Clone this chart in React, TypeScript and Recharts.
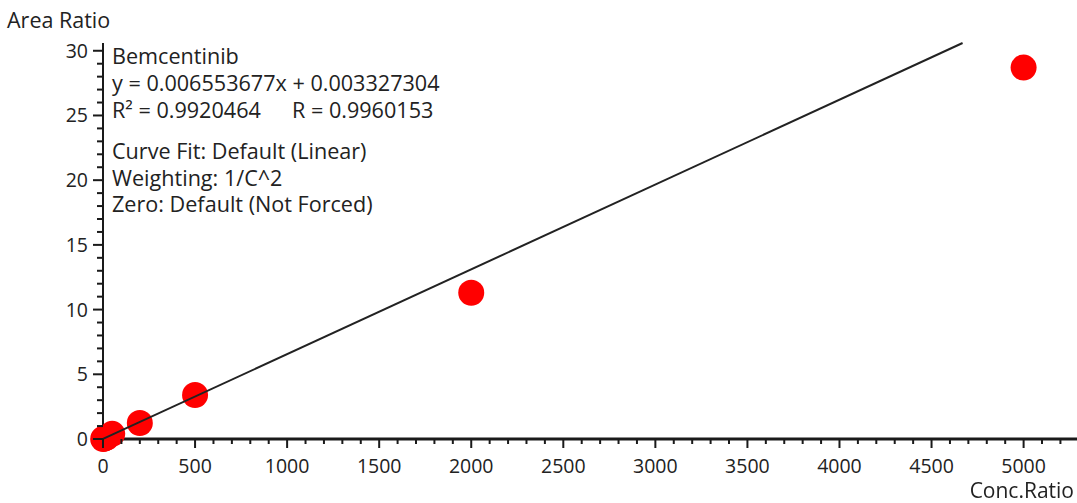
import { ScatterChart, Scatter, XAxis, YAxis } from "recharts";

// calibration standards
const concRatio = [1, 5, 10, 20, 50, 200, 500, 2000, 5000];
const areaRatio = [0.0, 0.03, 0.06, 0.12, 0.4, 1.24, 3.4, 11.3, 28.7];

// fit reported by the software
const fitSlope = 0.006553677;
const fitIntercept = 0.003327304;

const xMax = 5290;
const yMax = 30.6;
const xTicks = Array.from({ length: 53 }, (_, i) => i * 100);
const yTicks = Array.from({ length: 31 }, (_, i) => i);

const points = concRatio.map((x, i) => ({ x, y: areaRatio[i] }));
const fitLine = [
  { x: 0, y: fitIntercept },
  { x: (yMax - fitIntercept) / fitSlope, y: yMax },
];

const FONT = '"Open Sans", "Noto Sans", sans-serif';
const INK = "#1a1a1a";

function XTick(props: any) {
  const { x, y, payload } = props;
  const major = payload.value % 500 === 0;
  return (
    <g>
      <line x1={x} x2={x} y1={y} y2={y + (major ? 9 : 5)} stroke={INK} strokeWidth={2} />
      {major && (
        <text x={x} y={y + 34} textAnchor="middle" fontSize={19.5} fontFamily={FONT} fill="#222">
          {payload.value}
        </text>
      )}
    </g>
  );
}

function YTick(props: any) {
  const { x, y, payload } = props;
  const major = payload.value % 5 === 0;
  return (
    <g>
      <line x1={x - (major ? 10 : 6)} x2={x} y1={y} y2={y} stroke={INK} strokeWidth={2} />
      {major && (
        <text x={x - 15} y={y + 7} textAnchor="end" fontSize={19.5} fontFamily={FONT} fill="#222">
          {payload.value}
        </text>
      )}
    </g>
  );
}

const Dot = (p: any) => <circle cx={p.cx} cy={p.cy} r={13} fill="#ff0000" />;

const noteLine = (top: number, left = 112): React.CSSProperties => ({
  position: "absolute",
  left,
  top: top - 12,
  height: 24,
  lineHeight: "24px",
  whiteSpace: "pre",
});

export default function App() {
  return (
    <div
      style={{
        position: "fixed",
        left: 0,
        top: 0,
        width: 1077,
        height: 503,
        background: "#fff",
        fontFamily: FONT,
        color: "#222",
        fontSize: 21.6,
      }}
    >
      <ScatterChart width={1077} height={503} margin={{ top: 43, right: 0, left: 43, bottom: 34 }}>
        <XAxis
          type="number"
          dataKey="x"
          domain={[0, xMax]}
          ticks={xTicks}
          interval={0}
          tick={<XTick />}
          tickLine={false}
          tickSize={0}
          tickMargin={0}
          height={30}
          axisLine={{ stroke: INK, strokeWidth: 3 }}
        />
        <YAxis
          type="number"
          dataKey="y"
          domain={[0, yMax]}
          ticks={yTicks}
          interval={0}
          tick={<YTick />}
          tickLine={false}
          tickSize={0}
          tickMargin={0}
          width={60}
          axisLine={{ stroke: INK, strokeWidth: 2 }}
        />
        <Scatter data={points} shape={<Dot />} isAnimationActive={false} />
        <Scatter
          data={fitLine}
          line={{ stroke: "#222", strokeWidth: 2 }}
          shape={() => <g />}
          isAnimationActive={false}
        />
      </ScatterChart>

      <div style={{ position: "absolute", left: 7, top: 6, fontSize: 21.5, lineHeight: "28px" }}>Area Ratio</div>
      <div style={{ position: "absolute", right: 3, top: 479, fontSize: 21, lineHeight: "22px" }}>Conc.Ratio</div>

      <div style={noteLine(56)}>Bemcentinib</div>
      <div style={noteLine(83)}>y = 0.006553677x + 0.003327304</div>
      <div style={noteLine(110)}>R² = 0.9920464</div>
      <div style={noteLine(110, 292)}>R = 0.9960153</div>
      <div style={noteLine(151)}>Curve Fit: Default (Linear)</div>
      <div style={noteLine(178)}>Weighting: 1/C^2</div>
      <div style={noteLine(204)}>Zero: Default (Not Forced)</div>
    </div>
  );
}
